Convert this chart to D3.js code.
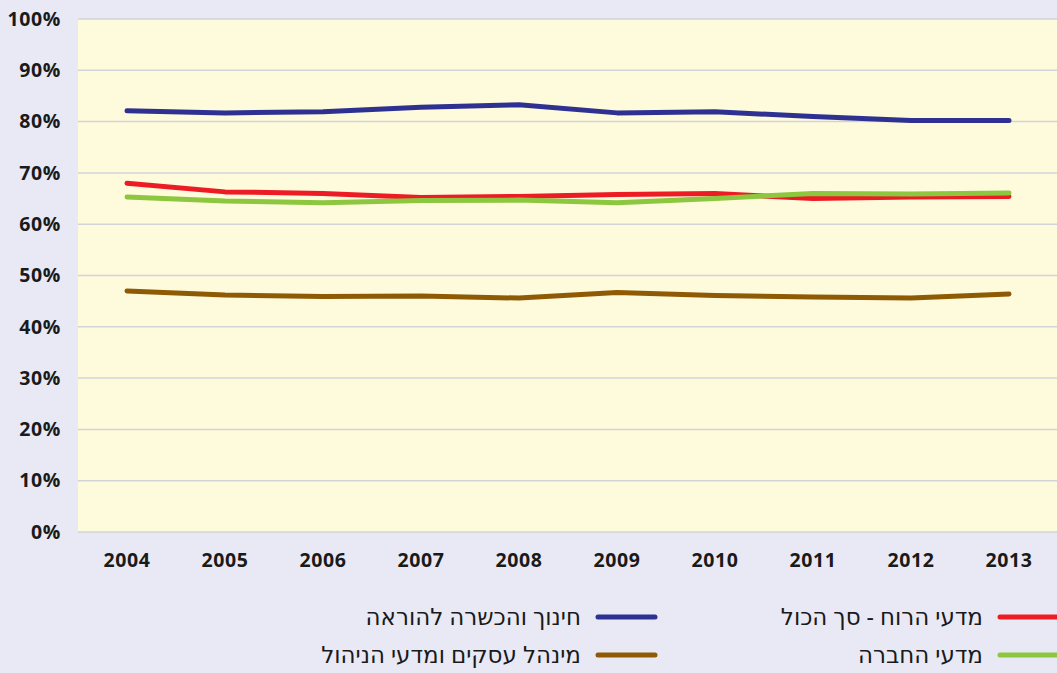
<!DOCTYPE html>
<html>
<head>
<meta charset="utf-8">
<script src="https://cdn.jsdelivr.net/npm/d3@7"></script>
<style>
  body { margin: 0; background: #e8e9f5; }
  svg { display: block; }
  .tick text { font-family: "Open Sans", sans-serif; font-weight: 700; fill: #1a1a1a; letter-spacing: 0.6px; }
  .legend text { font-family: "Noto Sans", "DejaVu Sans", sans-serif; font-size: 23px; fill: #1a1a1a; }
</style>
</head>
<body>
<svg id="chart" width="1057" height="673"></svg>
<script>
// data
var years = ['2004','2005','2006','2007','2008','2009','2010','2011','2012','2013'];
var education = [82.1, 81.7, 81.9, 82.8, 83.3, 81.7, 81.9, 81.0, 80.2, 80.2];
var humanities = [68.0, 66.3, 66.0, 65.2, 65.4, 65.8, 66.0, 65.0, 65.3, 65.4];
var social = [65.3, 64.5, 64.2, 64.6, 64.7, 64.2, 65.0, 66.0, 65.9, 66.1];
var business = [47.0, 46.2, 45.9, 46.0, 45.6, 46.7, 46.1, 45.8, 45.6, 46.4];
var yTicks = [0, 10, 20, 30, 40, 50, 60, 70, 80, 90, 100];

var series = [
  {name: 'חינוך והכשרה להוראה', values: education, color: '#2e3192'},
  {name: 'מדעי הרוח - סך הכול', values: humanities, color: '#ed1c24'},
  {name: 'מינהל עסקים ומדעי הניהול', values: business, color: '#8f5a04'},
  {name: 'מדעי החברה', values: social, color: '#8dc63f'}
];
// green is drawn over red where they cross
var drawOrder = [0, 1, 3, 2];

(function(){
var svg = d3.select('#chart');
var pl = 78, pr = 1058, pt = 19, pb = 532;

var x = d3.scaleBand().domain(years).range([pl, pr]);
var y = d3.scaleLinear().domain([0, 100]).range([pb, pt]);

svg.append('rect')
  .attr('x', pl).attr('y', pt)
  .attr('width', pr - pl).attr('height', pb - pt)
  .attr('fill', '#fefadc');

// gridlines
svg.append('g')
  .selectAll('line')
  .data(yTicks)
  .enter().append('line')
  .attr('x1', pl).attr('x2', pr)
  .attr('y1', function(d){ return y(d); })
  .attr('y2', function(d){ return y(d); })
  .attr('stroke', '#d2d3d8')
  .attr('stroke-width', 1.5);

var yAxis = svg.append('g')
  .attr('transform', 'translate(' + pl + ',0)')
  .call(d3.axisLeft(y).tickValues(yTicks).tickFormat(function(d){ return d + '%'; }).tickSize(0).tickPadding(17));
yAxis.select('.domain').remove();
yAxis.selectAll('text').style('font-size', '19.5px');

var xAxis = svg.append('g')
  .attr('transform', 'translate(0,' + pb + ')')
  .call(d3.axisBottom(x).tickSize(0).tickPadding(21));
xAxis.select('.domain').remove();
xAxis.selectAll('text').style('font-size', '19.5px');

var line = d3.line()
  .x(function(d, i){ return x(years[i]) + x.bandwidth() / 2; })
  .y(function(d){ return y(d); });

drawOrder.forEach(function(k){
  var s = series[k];
  svg.append('path')
    .datum(s.values)
    .attr('d', line)
    .attr('fill', 'none')
    .attr('stroke', s.color)
    .attr('stroke-width', 5)
    .attr('stroke-linecap', 'round')
    .attr('stroke-linejoin', 'round');
});

// legend, two columns, swatch to the right of the text
var legendPos = [
  {sx: 598, ty: 617},
  {sx: 1000, ty: 617},
  {sx: 598, ty: 655},
  {sx: 1000, ty: 655}
];
var legend = svg.append('g').attr('class', 'legend');
series.forEach(function(s, i){
  var p = legendPos[i];
  legend.append('line')
    .attr('x1', p.sx).attr('x2', p.sx + 57)
    .attr('y1', p.ty).attr('y2', p.ty)
    .attr('stroke', s.color)
    .attr('stroke-width', 5)
    .attr('stroke-linecap', 'round');
  legend.append('text')
    .attr('x', p.sx - 17)
    .attr('y', p.ty)
    .attr('dy', '0.35em')
    .attr('text-anchor', 'end')
    .text(s.name);
});
})();
</script>
</body>
</html>
